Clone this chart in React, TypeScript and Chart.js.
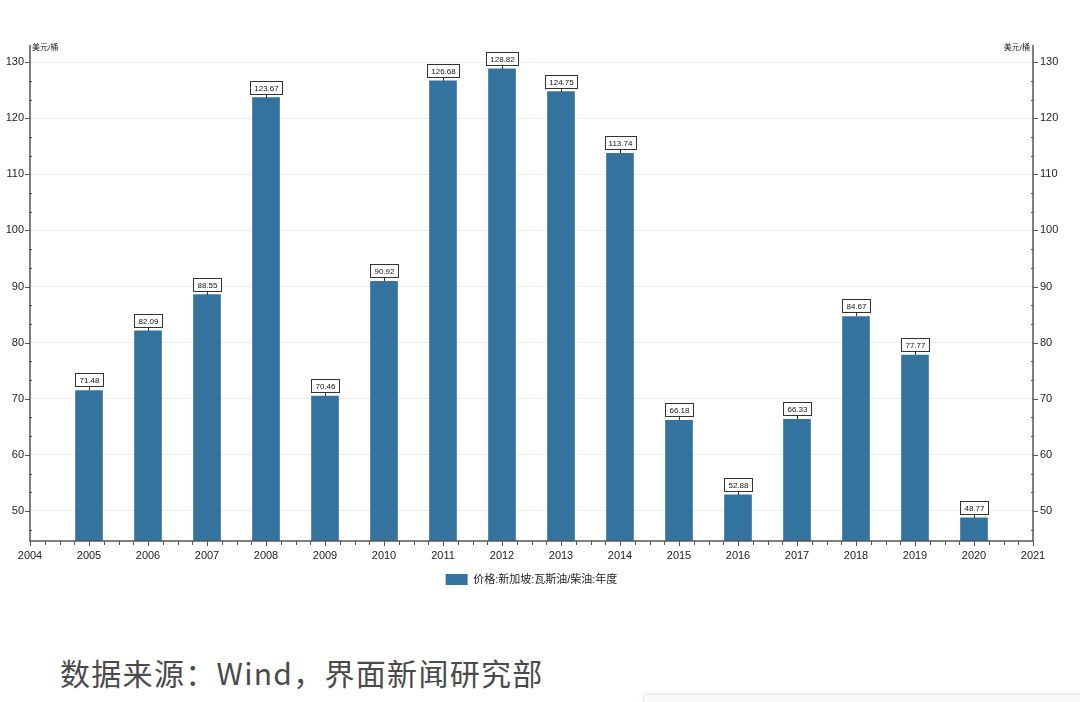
import React, { useEffect, useRef } from "react";
import { Chart, registerables } from "chart.js";

Chart.register(...registerables);

const years = [2005, 2006, 2007, 2008, 2009, 2010, 2011, 2012, 2013, 2014, 2015, 2016, 2017, 2018, 2019, 2020];
const prices = [71.48, 82.09, 88.55, 123.67, 70.46, 90.92, 126.68, 128.82, 124.75, 113.74, 66.18, 52.88, 66.33, 84.67, 77.77, 48.77];
const xTicks = [2004, 2005, 2006, 2007, 2008, 2009, 2010, 2011, 2012, 2013, 2014, 2015, 2016, 2017, 2018, 2019, 2020, 2021];
const yTicks = [50, 60, 70, 80, 90, 100, 110, 120, 130];
const seriesLabel = "价格:新加坡:瓦斯油/柴油:年度";
const unitLabel = "美元/桶";
const sourceText = "数据来源：Wind，界面新闻研究部";

const FONT = "'Liberation Sans', 'Noto Sans CJK SC', sans-serif";
const BAR = "#35739f";
const AXIS = "#555555";

const decorPlugin = {
  id: "decor",
  afterDatasetsDraw(chart: any) {
    const { ctx, chartArea } = chart;
    const { left, right, top, bottom } = chartArea;
    const ys = chart.scales.y;
    const xs = chart.scales.x;
    ctx.save();
    ctx.strokeStyle = AXIS;
    ctx.lineWidth = 1.5;
    ctx.beginPath();
    ctx.moveTo(left, top - 2);
    ctx.lineTo(left, bottom);
    ctx.lineTo(right, bottom);
    ctx.lineTo(right, top - 2);
    ctx.stroke();
    ctx.lineWidth = 1;
    for (let i = 0; i < yTicks.length; i++) {
      const v = yTicks[i];
      const py = Math.round(ys.getPixelForValue(v)) + 0.5;
      ctx.beginPath();
      ctx.moveTo(left - 5, py);
      ctx.lineTo(left, py);
      ctx.moveTo(right, py);
      ctx.lineTo(right + 5, py);
      ctx.stroke();
      for (let k = -2; k <= 2; k++) {
        if (k === 0) continue;
        const mv = v + (k * 10) / 3;
        if (mv < ys.min || mv > ys.max) continue;
        if (k < 0 && i > 0 && mv <= yTicks[i - 1] + 0.01) continue;
        const my = Math.round(ys.getPixelForValue(mv)) + 0.5;
        ctx.beginPath();
        ctx.moveTo(left - 1, my);
        ctx.lineTo(left + 2, my);
        ctx.moveTo(right - 2, my);
        ctx.lineTo(right + 1, my);
        ctx.stroke();
      }
    }
    for (let i = 0; i < xTicks.length; i++) {
      const v = xTicks[i];
      const px = Math.round(xs.getPixelForValue(v)) + 0.5;
      ctx.beginPath();
      ctx.moveTo(px, bottom);
      ctx.lineTo(px, bottom + 5);
      ctx.stroke();
      if (i < xTicks.length - 1) {
        for (let q = 1; q < 4; q++) {
          const mx = Math.round(xs.getPixelForValue(v + q / 4)) + 0.5;
          ctx.beginPath();
          ctx.moveTo(mx, bottom);
          ctx.lineTo(mx, bottom + 4);
          ctx.stroke();
        }
      }
    }
    const meta = chart.getDatasetMeta(0);
    ctx.font = "8px " + FONT;
    ctx.textAlign = "center";
    ctx.textBaseline = "middle";
    meta.data.forEach((el: any, idx: number) => {
      const txt = prices[idx].toFixed(2);
      const x = Math.round(el.x);
      const y = Math.round(el.y);
      const w = Math.ceil(ctx.measureText(txt).width) + 7;
      const h = 13;
      ctx.strokeStyle = "#333";
      ctx.beginPath();
      ctx.moveTo(x + 0.5, y);
      ctx.lineTo(x + 0.5, y - 4);
      ctx.stroke();
      ctx.fillStyle = "#ffffff";
      const bx = Math.round(x - w / 2) + 0.5;
      const by = y - 4 - h + 0.5;
      ctx.fillRect(bx, by, w, h);
      ctx.strokeRect(bx, by, w, h);
      ctx.fillStyle = "#111";
      ctx.fillText(txt, x + 0.5, by + h / 2 + 0.5);
    });
    ctx.font = "8px " + FONT;
    ctx.fillStyle = "#222";
    ctx.textBaseline = "middle";
    ctx.textAlign = "left";
    ctx.fillText(unitLabel, left + 2, top + 1);
    ctx.textAlign = "right";
    ctx.fillText(unitLabel, right - 3, top + 1);
    ctx.restore();
  },
};

export default function App() {
  const ref = useRef<HTMLCanvasElement | null>(null);
  useEffect(() => {
    if (!ref.current) return;
    Chart.defaults.font.family = FONT;
    const chart = new Chart(ref.current, {
      type: "bar",
      data: {
        datasets: [
          {
            label: seriesLabel,
            data: years.map((y, i) => ({ x: y, y: prices[i] })),
            backgroundColor: BAR,
            borderWidth: 0,
            barThickness: 27,
            yAxisID: "y",
          },
        ],
      },
      options: {
        responsive: false,
        animation: false,
        devicePixelRatio: 1,
        layout: { padding: { top: 47, left: 0, right: 0, bottom: 5 } },
        plugins: {
          tooltip: { enabled: false },
          legend: {
            display: true,
            position: "bottom",
            fullSize: false,
            labels: {
              boxWidth: 22,
              boxHeight: 11,
              padding: 10,
              color: "#222",
              font: { size: 11, family: FONT },
            },
          },
        },
        scales: {
          x: {
            type: "linear",
            min: 2004,
            max: 2021,
            offset: false,
            afterBuildTicks: (s: any) => {
              s.ticks = xTicks.map((v) => ({ value: v }));
            },
            afterFit: (s: any) => {
              s.height = 23;
            },
            ticks: {
              autoSkip: false,
              maxRotation: 0,
              padding: 8,
              color: "#222",
              font: { size: 11 },
              callback: (v: any) => String(v),
            },
            grid: { display: false, drawTicks: false },
            border: { display: false },
          },
          y: {
            position: "left",
            min: 44.65,
            max: 132.7,
            afterBuildTicks: (s: any) => {
              s.ticks = yTicks.map((v) => ({ value: v }));
            },
            afterFit: (s: any) => {
              s.width = 30;
            },
            ticks: { padding: 6, color: "#222", font: { size: 11 } },
            grid: { color: "#ececec", drawTicks: false, lineWidth: 1 },
            border: { display: false },
          },
          y2: {
            position: "right",
            min: 44.65,
            max: 132.7,
            afterBuildTicks: (s: any) => {
              s.ticks = yTicks.map((v) => ({ value: v }));
            },
            afterFit: (s: any) => {
              s.width = 47;
            },
            ticks: { padding: 7, color: "#222", font: { size: 11 } },
            grid: { display: false, drawTicks: false },
            border: { display: false },
          },
        },
      } as any,
      plugins: [decorPlugin],
    });
    return () => chart.destroy();
  }, []);

  return (
    <div style={{ position: "fixed", left: 0, top: 0, width: 1080, height: 702, background: "#fff", overflow: "hidden" }}>
      <canvas ref={ref} width={1080} height={600} style={{ display: "block" }} />
      <div
        style={{
          position: "absolute",
          left: 60,
          top: 654,
          fontFamily: "'Noto Sans CJK SC', sans-serif",
          fontSize: 30,
          lineHeight: "36px",
          letterSpacing: "1.3px",
          color: "#4a4a4a",
          whiteSpace: "nowrap",
        }}
      >
        {sourceText}
      </div>
      <div
        style={{
          position: "absolute",
          left: 643,
          top: 694,
          width: 460,
          height: 30,
          border: "1px solid #e4e4e4",
          borderRadius: 4,
          background: "#fafafa",
          boxShadow: "0 -2px 6px rgba(0,0,0,0.05)",
        }}
      />
    </div>
  );
}
